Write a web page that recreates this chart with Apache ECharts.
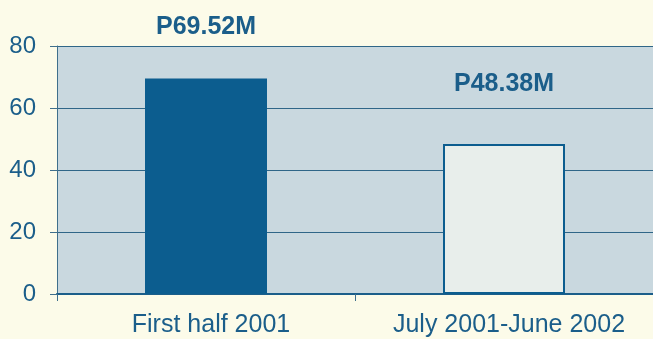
<!DOCTYPE html>
<html>
<head>
<meta charset="utf-8">
<script src="https://cdn.jsdelivr.net/npm/echarts@6/dist/echarts.min.js"></script>
<style>
  html, body { margin: 0; padding: 0; background: #fcfbe9; }
  #chart { width: 653px; height: 339px; }
</style>
</head>
<body>
<div id="chart"></div>
<script>
// Revenue by period, in millions of pesos
const categories = ['First half 2001', 'July 2001-June 2002'];
const values = [69.52, 48.38];
const valueLabels = ['P69.52M', 'P48.38M'];
const yTicks = [0, 20, 40, 60, 80];

const ink = '#1b5e8a';
const font = 'Liberation Sans, Arial, sans-serif';
const barFills = ['#0c5d8f', '#e8eeeb'];
const labelGaps = [39, 47];

const chart = echarts.init(document.getElementById('chart'));
chart.setOption({
  backgroundColor: '#fcfbe9',
  animation: false,
  grid: {
    left: 57, right: -6, top: 46, bottom: 45,
    show: true,
    backgroundColor: '#c9d8df',
    borderWidth: 0
  },
  xAxis: {
    type: 'category',
    data: categories,
    axisLine: { show: true, lineStyle: { color: ink, width: 2 } },
    axisTick: { show: true, interval: 0, length: 7, lineStyle: { color: '#3f6f8c', width: 1 } },
    axisLabel: {
      interval: 0, hideOverlap: false, color: ink, fontFamily: font, fontSize: 25, margin: 19,
      padding: [0, 0, 0, 10]
    }
  },
  yAxis: {
    type: 'value',
    min: yTicks[0],
    max: yTicks[yTicks.length - 1],
    interval: 20,
    axisLine: { show: true, lineStyle: { color: '#3f6f8c', width: 1 } },
    axisTick: { show: true, length: 7, lineStyle: { color: '#3f6f8c' } },
    axisLabel: { color: ink, fontFamily: font, fontSize: 24, margin: 21 },
    splitLine: { show: true, lineStyle: { color: '#2f6688', width: 1 } }
  },
  series: [{
    type: 'bar',
    barWidth: 122,
    data: values.map((v, i) => ({
      value: v,
      itemStyle: {
        color: barFills[i],
        borderColor: '#0c5d8f',
        borderWidth: i === 1 ? 2 : 0
      },
      label: { distance: labelGaps[i] }
    })),
    label: {
      show: true,
      position: 'top',
      color: ink,
      fontFamily: font,
      fontWeight: 'bold',
      fontSize: 25,
      formatter: p => valueLabels[p.dataIndex]
    }
  }]
});
</script>
</body>
</html>
